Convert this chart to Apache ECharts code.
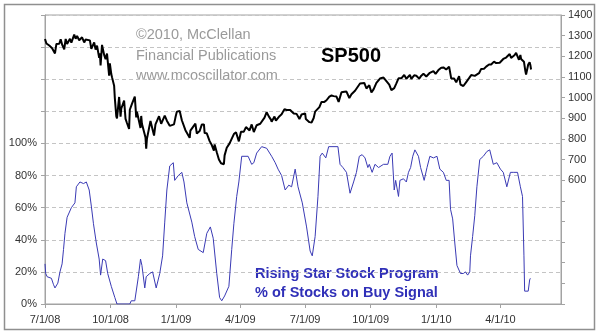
<!DOCTYPE html>
<html>
<head>
<meta charset="utf-8">
<script src="https://cdn.jsdelivr.net/npm/echarts@6/dist/echarts.min.js"></script>
<style>
  html, body { margin: 0; padding: 0; background: #fff; }
  #chart { width: 600px; height: 335px; }
</style>
</head>
<body>
<div id="chart"></div>
<script>
// Quarterly date ticks along the bottom axis
const tickLabels = ['7/1/08', '10/1/08', '1/1/09', '4/1/09', '7/1/09', '10/1/09', '1/1/10', '4/1/10'];

// S&P 500 closes (right axis)
const spDates = [
  '2008-07-01','2008-07-03','2008-07-07','2008-07-09','2008-07-11','2008-07-15','2008-07-17','2008-07-21','2008-07-23','2008-07-25',
  '2008-07-28','2008-07-30','2008-08-01','2008-08-05','2008-08-07','2008-08-11','2008-08-13','2008-08-15','2008-08-18','2008-08-20',
  '2008-08-22','2008-08-25','2008-08-27','2008-08-29','2008-09-02','2008-09-04','2008-09-05','2008-09-08','2008-09-10','2008-09-12',
  '2008-09-15','2008-09-16','2008-09-17','2008-09-19','2008-09-22','2008-09-24','2008-09-26','2008-09-29','2008-09-30','2008-10-02',
  '2008-10-03','2008-10-06','2008-10-07','2008-10-09','2008-10-10','2008-10-13','2008-10-15','2008-10-16','2008-10-20','2008-10-22',
  '2008-10-24','2008-10-27','2008-10-28','2008-10-31','2008-11-04','2008-11-06','2008-11-07','2008-11-12','2008-11-13','2008-11-14',
  '2008-11-19','2008-11-20','2008-11-21','2008-11-24','2008-11-26','2008-11-28','2008-12-01','2008-12-03','2008-12-05','2008-12-08',
  '2008-12-11','2008-12-16','2008-12-19','2008-12-23','2008-12-29','2008-12-31','2009-01-02','2009-01-06','2009-01-09','2009-01-14',
  '2009-01-16','2009-01-20','2009-01-21','2009-01-23','2009-01-28','2009-01-30','2009-02-03','2009-02-06','2009-02-09','2009-02-10',
  '2009-02-13','2009-02-17','2009-02-20','2009-02-23','2009-02-24','2009-02-27','2009-03-02','2009-03-05','2009-03-09','2009-03-10',
  '2009-03-13','2009-03-17','2009-03-19','2009-03-23','2009-03-26','2009-03-30','2009-04-02','2009-04-06','2009-04-09','2009-04-14',
  '2009-04-17','2009-04-20','2009-04-24','2009-04-29','2009-05-01','2009-05-05','2009-05-08','2009-05-11','2009-05-14','2009-05-15',
  '2009-05-19','2009-05-21','2009-05-26','2009-05-29','2009-06-02','2009-06-05','2009-06-10','2009-06-12','2009-06-15','2009-06-19',
  '2009-06-23','2009-06-26','2009-07-01','2009-07-02','2009-07-07','2009-07-10','2009-07-13','2009-07-15','2009-07-17','2009-07-21',
  '2009-07-24','2009-07-28','2009-07-31','2009-08-04','2009-08-07','2009-08-10','2009-08-14','2009-08-17','2009-08-21','2009-08-25',
  '2009-08-28','2009-09-01','2009-09-04','2009-09-09','2009-09-11','2009-09-16','2009-09-18','2009-09-22','2009-09-25','2009-09-29',
  '2009-10-02','2009-10-05','2009-10-09','2009-10-14','2009-10-16','2009-10-19','2009-10-23','2009-10-27','2009-10-30','2009-11-03',
  '2009-11-06','2009-11-09','2009-11-13','2009-11-17','2009-11-20','2009-11-25','2009-11-27','2009-12-01','2009-12-04','2009-12-08',
  '2009-12-11','2009-12-14','2009-12-18','2009-12-23','2009-12-28','2009-12-31','2010-01-04','2010-01-08','2010-01-11','2010-01-15',
  '2010-01-19','2010-01-22','2010-01-26','2010-01-29','2010-02-02','2010-02-04','2010-02-05','2010-02-08','2010-02-12','2010-02-16',
  '2010-02-19','2010-02-24','2010-02-26','2010-03-02','2010-03-05','2010-03-09','2010-03-12','2010-03-16','2010-03-19','2010-03-23',
  '2010-03-26','2010-03-31','2010-04-05','2010-04-09','2010-04-14','2010-04-16','2010-04-21','2010-04-23','2010-04-27','2010-04-29',
  '2010-04-30','2010-05-04','2010-05-06','2010-05-07','2010-05-10','2010-05-12','2010-05-13','2010-05-14'
];
const spValues = [
  1284,1262,1252,1245,1239,1214,1260,1261,1282,1257,
  1234,1284,1260,1285,1266,1305,1285,1298,1278,1275,
  1292,1267,1281,1283,1277,1236,1242,1267,1232,1252,
  1193,1214,1156,1255,1207,1186,1213,1106,1166,1114,
  1099,1057,996,910,899,1003,908,946,986,897,
  877,848,941,969,1005,904,931,853,911,873,
  807,752,800,852,887,896,816,870,876,910,
  873,913,888,863,870,903,932,935,890,842,
  850,805,840,832,874,826,838,869,870,828,
  827,789,770,743,773,735,700,682,677,720,
  757,778,784,823,832,788,834,835,857,841,
  870,833,866,873,878,903,929,909,893,883,
  908,888,910,919,944,940,940,946,923,921,
  896,918,923,896,881,879,901,932,940,954,
  979,979,987,1005,1010,1007,1005,979,1026,1028,
  1029,998,1016,1033,1042,1068,1068,1071,1044,1060,
  1025,1040,1071,1092,1087,1097,1080,1063,1036,1046,
  1069,1093,1093,1110,1091,1110,1091,1108,1106,1092,
  1106,1115,1102,1120,1128,1115,1133,1145,1146,1136,
  1150,1092,1092,1074,1104,1063,1066,1056,1075,1094,
  1109,1105,1104,1118,1139,1140,1150,1160,1160,1174,
  1167,1169,1187,1194,1211,1192,1206,1217,1183,1206,
  1187,1174,1128,1111,1160,1171,1158,1136
];

// Rising Star Stock Program: % of stocks on buy signal (left axis)
const pctDates = [
  '2008-07-01','2008-07-02','2008-07-04','2008-07-10','2008-07-13','2008-07-15','2008-07-19','2008-07-22','2008-07-25','2008-07-27',
  '2008-07-29','2008-08-01','2008-08-07','2008-08-12','2008-08-14','2008-08-19','2008-08-24','2008-08-28','2008-09-01','2008-09-04',
  '2008-09-07','2008-09-11','2008-09-15','2008-09-17','2008-09-20','2008-09-24','2008-09-27','2008-10-02','2008-10-07','2008-10-10',
  '2008-10-28','2008-10-30','2008-11-04','2008-11-09','2008-11-12','2008-11-14','2008-11-18','2008-11-20','2008-11-25','2008-11-29',
  '2008-12-04','2008-12-09','2008-12-13','2008-12-16','2008-12-19','2008-12-23','2008-12-28','2008-12-30','2009-01-04','2009-01-09',
  '2009-01-12','2009-01-16','2009-01-23','2009-01-27','2009-02-01','2009-02-08','2009-02-13','2009-02-18','2009-02-22','2009-02-27',
  '2009-03-03','2009-03-06','2009-03-10','2009-03-16','2009-03-20','2009-03-23','2009-03-27','2009-03-30','2009-04-03','2009-04-12',
  '2009-04-17','2009-04-20','2009-04-24','2009-05-01','2009-05-08','2009-05-15','2009-05-20','2009-05-24','2009-05-29','2009-06-03',
  '2009-06-08','2009-06-12','2009-06-17','2009-06-21','2009-06-27','2009-07-03','2009-07-08','2009-07-11','2009-07-15','2009-07-19',
  '2009-07-22','2009-07-25','2009-07-30','2009-08-03','2009-08-16','2009-08-19','2009-08-23','2009-08-28','2009-09-02','2009-09-07',
  '2009-09-11','2009-09-15','2009-09-19','2009-09-23','2009-09-27','2009-09-29','2009-10-03','2009-10-07','2009-10-12','2009-10-19',
  '2009-10-25','2009-10-28','2009-10-31','2009-11-03','2009-11-05','2009-11-09','2009-11-11','2009-11-16','2009-11-20','2009-11-23',
  '2009-11-26','2009-11-29','2009-12-02','2009-12-07','2009-12-10','2009-12-15','2009-12-19','2009-12-23','2009-12-28','2010-01-02',
  '2010-01-06','2010-01-11','2010-01-15','2010-01-19','2010-01-21','2010-01-24','2010-01-27','2010-01-30','2010-02-04','2010-02-08',
  '2010-02-11','2010-02-14','2010-02-17','2010-02-18','2010-02-21','2010-02-24','2010-02-27','2010-03-03','2010-03-08','2010-03-13',
  '2010-03-17','2010-03-22','2010-03-27','2010-04-01','2010-04-05','2010-04-10','2010-04-15','2010-04-19','2010-04-25','2010-04-29',
  '2010-05-02','2010-05-04','2010-05-05','2010-05-10','2010-05-12','2010-05-13'
];
const pctValues = [
  25,19,17,16,12,10,13,20,25,34,
  44,54,60,63,73,76,75,76,71,61,
  50,38,28,18,28,27,19,11,4,0,
  0,2,2,17,28,24,10,17,19,20,
  10,19,30,51,71,86,88,77,80,82,
  76,63,51,42,34,32,44,48,41,19,
  4,2,5,11,34,50,67,76,92,92,
  87,88,94,98,97,92,88,84,80,71,
  74,73,84,73,63,48,33,30,42,67,
  92,94,91,98,98,87,85,82,69,76,
  82,92,93,91,85,87,82,87,85,87,
  87,92,94,71,77,67,77,78,76,82,
  85,92,96,92,85,77,85,92,91,92,
  84,82,77,77,59,53,38,24,19,19,
  20,18,20,30,42,55,73,90,92,95,
  96,87,88,84,82,73,82,82,82,73,
  67,30,8,8,15,16
];

const FONT = '"Liberation Sans", Arial, sans-serif';

// Dates are placed on a plain numeric axis (ms timestamps)
function isoToTime(s) {
  const [y, m, d] = s.split('-').map(Number);
  return Date.UTC(y, m - 1, d);
}
function labelToTime(s) {
  const [m, d, y] = s.split('/').map(Number);
  return Date.UTC(2000 + y, m - 1, d);
}
const tickValues = tickLabels.map(labelToTime);

const chart = echarts.init(document.getElementById('chart'), null, { renderer: 'canvas' });

chart.setOption({
  animation: false,
  backgroundColor: '#ffffff',
  grid: {
    left: 45, right: 39, top: 15, bottom: 31,
    show: true, borderColor: '#a3a3a3', borderWidth: 1, backgroundColor: 'transparent'
  },
  xAxis: {
    type: 'value',
    min: Date.UTC(2008, 6, 1),
    max: Date.UTC(2010, 5, 25),
    axisLine: { show: true, lineStyle: { color: '#a3a3a3', width: 1 } },
    axisTick: { show: true, length: 4, lineStyle: { color: '#a3a3a3' }, customValues: tickValues },
    axisLabel: {
      customValues: tickValues,
      margin: 10,
      color: '#333', fontSize: 11, fontFamily: FONT,
      formatter: function (v) {
        const i = tickValues.indexOf(v);
        return i >= 0 ? tickLabels[i] : '';
      }
    },
    splitLine: { show: false }
  },
  yAxis: [
    {
      type: 'value', min: 0, max: 180, interval: 20, position: 'left',
      axisLine: { show: true, lineStyle: { color: '#a3a3a3' } },
      axisTick: { show: true, length: 4, lineStyle: { color: '#a3a3a3' } },
      axisLabel: {
        margin: 8, color: '#333', fontSize: 11, fontFamily: FONT,
        formatter: v => (v <= 100 ? v + '%' : '')
      },
      splitLine: { show: true, lineStyle: { color: '#c4c4c4', type: [4, 3], width: 1 } }
    },
    {
      type: 'value', min: 0, max: 1400, interval: 100, position: 'right',
      axisLine: { show: true, lineStyle: { color: '#a3a3a3' } },
      axisTick: { show: true, length: 4, lineStyle: { color: '#a3a3a3' } },
      axisLabel: {
        margin: 7, color: '#333', fontSize: 11, fontFamily: FONT,
        formatter: v => (v >= 600 ? String(v) : '')
      },
      splitLine: { show: false }
    }
  ],
  series: [
    {
      name: '% of Stocks on Buy Signal',
      type: 'line', yAxisIndex: 0, showSymbol: false,
      lineStyle: { color: '#3a3ab4', width: 1 },
      data: pctDates.map((d, i) => [isoToTime(d), pctValues[i]]),
      z: 2
    },
    {
      name: 'SP500',
      type: 'line', yAxisIndex: 1, showSymbol: false,
      lineStyle: { color: '#000000', width: 2 },
      data: spDates.map((d, i) => [isoToTime(d), spValues[i]]),
      z: 3
    }
  ],
  graphic: [
    {
      type: 'rect', silent: true,
      shape: { x: 4.5, y: 4.5, width: 590, height: 325 },
      style: { fill: 'none', stroke: '#8f8f8f', lineWidth: 1.5 }
    },
    {
      type: 'text', left: 136, top: 27,
      style: { text: '©2010, McClellan', font: '14.5px ' + FONT, fill: '#9a9a9a' }
    },
    {
      type: 'text', left: 136, top: 48,
      style: { text: 'Financial Publications', font: '14.5px ' + FONT, fill: '#9a9a9a' }
    },
    {
      type: 'text', left: 136, top: 68,
      style: { text: 'www.mcoscillator.com', font: '14.5px ' + FONT, fill: '#9a9a9a' }
    },
    {
      type: 'text', left: 321, top: 46,
      style: { text: 'SP500', font: 'bold 20px ' + FONT, fill: '#000' }
    },
    {
      type: 'text', left: 255, top: 266,
      style: { text: 'Rising Star Stock Program', font: 'bold 14.5px ' + FONT, fill: '#3030b8' }
    },
    {
      type: 'text', left: 255, top: 285,
      style: { text: '% of Stocks on Buy Signal', font: 'bold 14.5px ' + FONT, fill: '#3030b8' }
    }
  ]
});
</script>
</body>
</html>
